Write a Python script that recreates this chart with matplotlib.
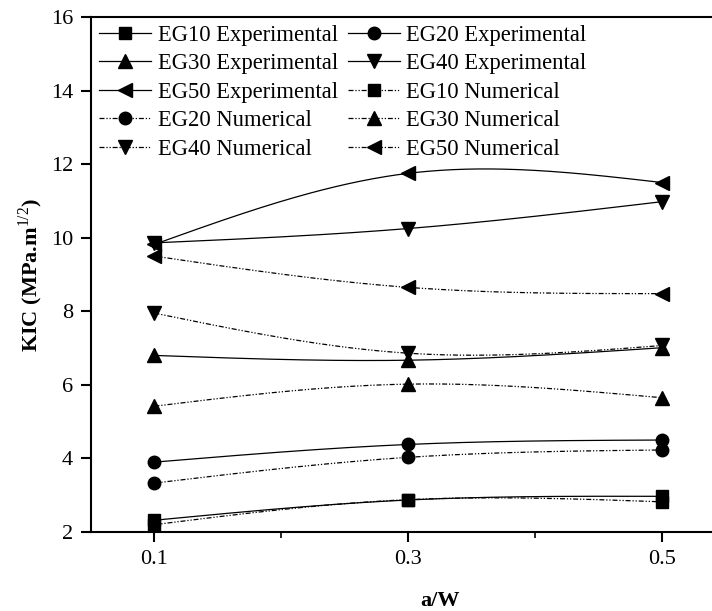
import numpy as np
import matplotlib
matplotlib.use('Agg')
import matplotlib.pyplot as plt

plt.rcParams['font.family'] = ['Liberation Serif', 'DejaVu Serif']
plt.rcParams['mathtext.fontset'] = 'custom'
plt.rcParams['mathtext.rm'] = 'Liberation Serif'

# a/W ratios and fracture toughness values
aw = [0.1, 0.3, 0.5]

eg10_exp = [2.32, 2.87, 2.97]
eg20_exp = [3.90, 4.38, 4.50]
eg30_exp = [6.80, 6.67, 7.01]
eg40_exp = [9.86, 10.25, 10.98]
eg50_exp = [9.82, 11.75, 11.50]

eg10_num = [2.20, 2.88, 2.82]
eg20_num = [3.33, 4.03, 4.23]
eg30_num = [5.42, 6.02, 5.65]
eg40_num = [7.95, 6.86, 7.07]
eg50_num = [9.50, 8.65, 8.48]


def natural_spline(x, y, n=200):
    # natural cubic spline through the points, used only for the connecting line
    x = np.asarray(x, float)
    y = np.asarray(y, float)
    k = len(x)
    h = np.diff(x)
    A = np.zeros((k, k))
    b = np.zeros(k)
    A[0, 0] = A[-1, -1] = 1
    for i in range(1, k - 1):
        A[i, i - 1] = h[i - 1]
        A[i, i] = 2 * (h[i - 1] + h[i])
        A[i, i + 1] = h[i]
        b[i] = 6 * ((y[i + 1] - y[i]) / h[i] - (y[i] - y[i - 1]) / h[i - 1])
    M = np.linalg.solve(A, b)
    xs = np.linspace(x[0], x[-1], n)
    idx = np.clip(np.searchsorted(x, xs) - 1, 0, k - 2)
    x0, x1 = x[idx], x[idx + 1]
    hh = x1 - x0
    ys = (M[idx] * (x1 - xs) ** 3 / (6 * hh) + M[idx + 1] * (xs - x0) ** 3 / (6 * hh)
          + (y[idx] / hh - M[idx] * hh / 6) * (x1 - xs)
          + (y[idx + 1] / hh - M[idx + 1] * hh / 6) * (xs - x0))
    return xs, ys


fig = plt.figure(figsize=(7.12, 6.11), dpi=100)
ax = fig.add_axes([91 / 712, 1 - 532 / 611, 698 / 712, 515 / 611])

num_dash = (0, (4, 1.5, 1, 1.5, 1, 1.5))
series = [
    ('EG10 Experimental', eg10_exp, 's', 8, '-'),
    ('EG20 Experimental', eg20_exp, 'o', 9, '-'),
    ('EG30 Experimental', eg30_exp, '^', 10, '-'),
    ('EG40 Experimental', eg40_exp, 'v', 10, '-'),
    ('EG50 Experimental', eg50_exp, '<', 10, '-'),
    ('EG10 Numerical', eg10_num, 's', 8, num_dash),
    ('EG20 Numerical', eg20_num, 'o', 9, num_dash),
    ('EG30 Numerical', eg30_num, '^', 10, num_dash),
    ('EG40 Numerical', eg40_num, 'v', 10, num_dash),
    ('EG50 Numerical', eg50_num, '<', 10, num_dash),
]

handles = {}
for label, vals, mk, ms, ls in series:
    xs, ys = natural_spline(aw, vals)
    ax.plot(xs, ys, color='black', linestyle=ls, linewidth=0.9)
    ax.plot(aw, vals, linestyle='none', marker=mk, markersize=ms, color='black')
    handles[label] = plt.Line2D([], [], color='black', linestyle=ls, linewidth=0.9,
                                marker=mk, markersize=ms)

ax.set_xlim(0.05, 0.6)
ax.set_ylim(2, 16)
ax.set_xticks([0.1, 0.3, 0.5])
ax.set_xticks([0.2, 0.4], minor=True)
ax.set_xticklabels(['0.1', '0.3', '0.5'])
ax.set_yticks(range(2, 17, 2))
ax.tick_params(axis='both', which='major', direction='out', length=7, width=1.5,
               labelsize=16, pad=6)
ax.tick_params(axis='x', which='minor', direction='out', length=4, width=1.2)
for sp in ax.spines.values():
    sp.set_linewidth(1.5)

ax.set_xlabel('a/W', fontsize=16, fontweight='bold', labelpad=16)
ax.set_ylabel(r'KIC (MPa.m$^{\mathrm{1/2}}$)', fontsize=16, fontweight='bold', labelpad=4)

# legend reads row by row: two entries per row
order = ['EG10 Experimental', 'EG30 Experimental', 'EG50 Experimental',
         'EG20 Numerical', 'EG40 Numerical',
         'EG20 Experimental', 'EG40 Experimental', 'EG10 Numerical',
         'EG30 Numerical', 'EG50 Numerical']
ax.legend([handles[k] for k in order], order, ncol=2, frameon=False,
          loc='upper left', bbox_to_anchor=(0.012, 0.985), borderaxespad=0,
          borderpad=0, fontsize=16.3, handlelength=2.3, handletextpad=0.3,
          columnspacing=0.4, labelspacing=0.33)

fig.savefig('out.png', dpi=100)
